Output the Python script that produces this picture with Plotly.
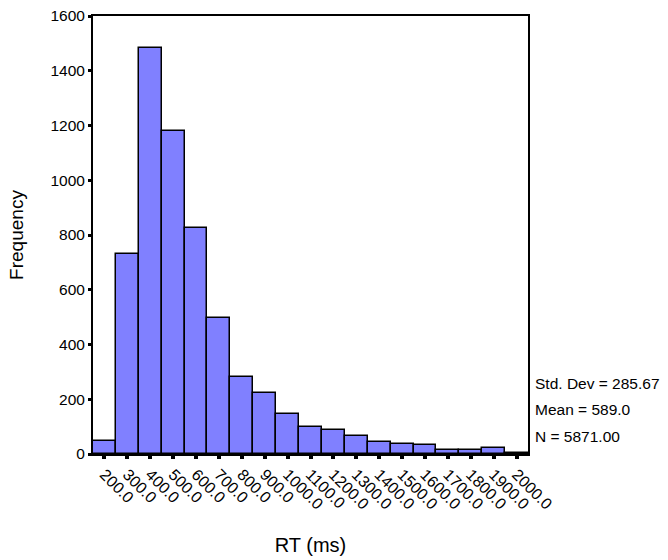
import plotly.graph_objects as go

bin_mids = [200, 300, 400, 500, 600, 700, 800, 900, 1000, 1100, 1200,
            1300, 1400, 1500, 1600, 1700, 1800, 1900, 2000]
tick_labels = [f"{v:.1f}" for v in bin_mids]
frequency = [47, 730, 1482, 1180, 827, 497, 282, 222, 145, 99, 88,
             65, 44, 38, 32, 15, 15, 21, 5]
stats_lines = ["Std. Dev = 285.67", "Mean = 589.0", "N = 5871.00"]

FONT = "Liberation Sans, Arial, sans-serif"

fig = go.Figure()
fig.add_trace(go.Bar(
    x=bin_mids, y=frequency, width=100,
    marker=dict(color="#8080FF", line=dict(color="black", width=1.5)),
    showlegend=False, hoverinfo="x+y",
))

for i, t in enumerate(stats_lines):
    fig.add_annotation(
        text=t, xref="paper", yref="paper", x=1.012, y=0.162 - i * 0.0615,
        xanchor="left", yanchor="middle", showarrow=False,
        font=dict(family=FONT, size=15.5, color="black"),
    )

fig.update_layout(
    width=668, height=560,
    margin=dict(l=93, r=140, t=16, b=106),
    paper_bgcolor="white", plot_bgcolor="white",
    bargap=0,
    font=dict(family=FONT, color="black"),
    xaxis=dict(
        range=[150, 2050], tickvals=bin_mids, ticktext=tick_labels,
        tickangle=45, ticks="outside", ticklen=3, tickwidth=4, tickcolor="black",
        showline=True, linecolor="black", linewidth=2, mirror=True,
        showgrid=False, zeroline=False, automargin=False,
        tickfont=dict(family=FONT, size=16),
        title=dict(text="RT (ms)", font=dict(family=FONT, size=20), standoff=26),
    ),
    yaxis=dict(
        range=[0, 1600], dtick=200, ticks="outside", ticklen=3, tickwidth=3,
        tickcolor="black",
        showline=True, linecolor="black", linewidth=2, mirror=True,
        showgrid=False, zeroline=False, automargin=False,
        tickfont=dict(family=FONT, size=15.5),
        title=dict(text="Frequency", font=dict(family=FONT, size=19), standoff=22),
    ),
)

fig.write_html("out.html")
